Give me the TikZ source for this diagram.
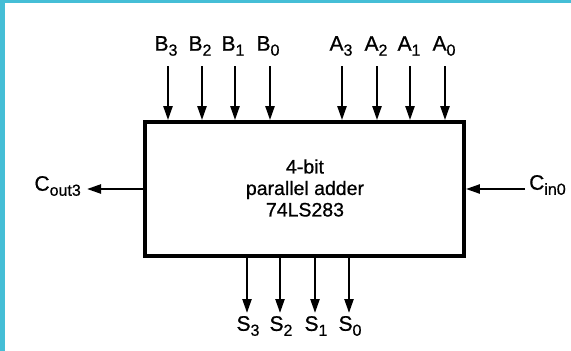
\documentclass[tikz,border=0pt]{standalone}
\usepackage{fontspec}
\setmainfont[FakeBold=0.7]{Liberation Sans}
\usetikzlibrary{arrows.meta}
\definecolor{frame}{HTML}{45BED6}
\newcommand{\sbx}[1]{\raisebox{-5pt}{\fontsize{16}{16}\selectfont #1}}
\begin{document}
\begin{tikzpicture}[x=1pt,y=-1pt,
  arr/.style={line width=2.3pt,-{Triangle[length=14pt,width=9pt]}},
  lbl/.style={inner sep=0pt,font=\fontsize{21}{22}\selectfont},
  boxst/.style={draw,line width=3.8pt,minimum width=319pt,minimum height=134pt,inner sep=0pt}]
\useasboundingbox (0,0) rectangle (571,351);
\fill[frame] (0,0) rectangle (5,351);
\fill[frame] (0,0) rectangle (571,3);
\node[boxst] (box) at (304.5,189) {};
\node[lbl,align=center,font=\fontsize{19.5}{21.5}\selectfont] (txt) at (305,188) {4-bit\\parallel adder\\74LS283};
% B inputs
\foreach \n/\x in {3/168,2/202,1/235,0/270}{
  \node[lbl] (b\n) at (\x-2,46) {B\sbx{\n}};
  \coordinate (bt\n) at (\x,66);
  \draw[arr] (bt\n) -- (bt\n |- box.north);
}
% A inputs
\foreach \n/\x in {3/342,2/377,1/410,0/445}{
  \node[lbl] (a\n) at (\x-1,46) {A\sbx{\n}};
  \coordinate (at\n) at (\x,66);
  \draw[arr] (at\n) -- (at\n |- box.north);
}
% S outputs
\foreach \n/\x in {3/247,2/280,1/315,0/349}{
  \node[lbl] (s\n) at (\x+1,326) {S\sbx{\n}};
  \coordinate (sb\n) at (\x,313);
  \draw[arr] (sb\n |- box.south) -- (sb\n);
}
% carries
\node[lbl,anchor=east] (cout) at (81,186) {C\sbx{out3}};
\coordinate (coutt) at (87,189);
\draw[arr] (box.west |- coutt) -- (coutt);
\node[lbl,anchor=west] (cin) at (529,185) {C\sbx{in0}};
\coordinate (cint) at (525,189);
\draw[arr] (cint) -- (box.east |- cint);
\end{tikzpicture}
\end{document}
